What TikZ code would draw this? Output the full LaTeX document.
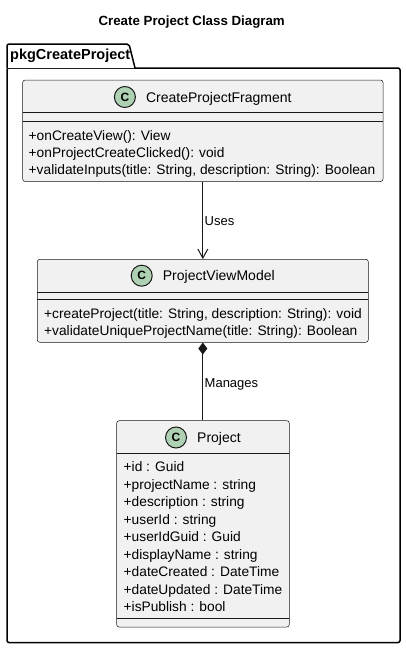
\documentclass[tikz,border=0pt]{standalone}
\usepackage{fontspec}
\setmainfont{Liberation Sans}
\usetikzlibrary{arrows.meta,calc}
\definecolor{classbg}{HTML}{F1F1F1}
\definecolor{classbd}{HTML}{181818}
\definecolor{spot}{HTML}{ADD1B2}
\tikzset{
 classbox/.style={rectangle, draw=classbd, fill=classbg, line width=0.5pt, rounded corners=2.5pt, inner sep=0pt},
 sepline/.style={draw=classbd, line width=0.5pt},
 cname/.style={inner sep=0pt, anchor=base, font=\fontsize{14}{16}\selectfont},
 member/.style={inner sep=0pt, anchor=base west, font=\fontsize{13.75}{16}\selectfont},
 spotc/.style={circle, draw=classbd, fill=spot, line width=1pt, minimum size=21pt, inner sep=0pt, font=\fontsize{12}{12}\selectfont\bfseries},
 conn/.style={line width=1pt, draw=classbd},
 lbl/.style={inner sep=0pt, anchor=base west, font=\fontsize{13}{15}\selectfont},
 pkgline/.style={line width=1.5pt, draw=black, fill=white, rounded corners=2pt}
}
\begin{document}
\begin{tikzpicture}[x=1pt,y=-1pt]
\useasboundingbox (0,0) rectangle (406,648);
\node[inner sep=0pt, anchor=base, font=\fontsize{13.3}{16}\selectfont\bfseries] (title) at (191.7,25) {Create Project Class Diagram};
% package
\draw[pkgline] (7,68) rectangle (400,642.5);
\draw[pkgline] (7,68) -- (7,44) -- (129,44) -- (135,68);
\node[inner sep=0pt, anchor=base west, font=\fontsize{14.5}{16}\selectfont\bfseries] (pkgname) at (10,59) {pkgCreateProject};
% CreateProjectFragment
\node[classbox, minimum width=360.3pt, minimum height=101.5pt] (cpf) at (202.85,130.75) {};
\draw[sepline] (22.7,112.5) -- (383,112.5);
\draw[sepline] (22.7,121) -- (383,121);
\node[cname] (cpfname) at (202.85,102) {\hspace*{32pt}CreateProjectFragment};
\node[spotc] (cpfspot) at ([shift={(11,-5)}]cpfname.base west) {C};
\node[member] (cpfm1) at (28.5,140) {+onCreateView(): View};
\node[member] (cpfm2) at (28.5,157) {+onProjectCreateClicked(): void};
\node[member] (cpfm3) at (28.5,174) {+validateInputs(title: String, description: String): Boolean};
% ProjectViewModel
\node[classbox, minimum width=331pt, minimum height=83pt] (pvm) at (202.8,300.8) {};
\draw[sepline] (37.3,292) -- (368.3,292);
\draw[sepline] (37.3,299.3) -- (368.3,299.3);
\node[cname] (pvmname) at (202.8,280.7) {\hspace*{32pt}ProjectViewModel};
\node[spotc] (pvmspot) at ([shift={(11,-5)}]pvmname.base west) {C};
\node[member] (pvmm1) at (44,318.3) {+createProject(title: String, description: String): void};
\node[member] (pvmm2) at (44,335.3) {+validateUniqueProjectName(title: String): Boolean};
% Project
\node[classbox, minimum width=172.6pt, minimum height=206.3pt] (prj) at (203,523.85) {};
\draw[sepline] (116.7,453.3) -- (289.3,453.3);
\draw[sepline] (116.7,618.3) -- (289.3,618.3);
\node[cname] (prjname) at (203,442.5) {\hspace*{32pt}Project};
\node[spotc] (prjspot) at ([shift={(11,-5)}]prjname.base west) {C};
\node[member] (a1) at (123.5,471.7) {+id : Guid};
\node[member] (a2) at (123.5,489.2) {+projectName : string};
\node[member] (a3) at (123.5,506.7) {+description : string};
\node[member] (a4) at (123.5,524.2) {+userId : string};
\node[member] (a5) at (123.5,541.7) {+userIdGuid : Guid};
\node[member] (a6) at (123.5,559.2) {+displayName : string};
\node[member] (a7) at (123.5,576.7) {+dateCreated : DateTime};
\node[member] (a8) at (123.5,594.2) {+dateUpdated : DateTime};
\node[member] (a9) at (123.5,611.7) {+isPublish : bool};
% connectors
\draw[conn, -{Straight Barb[length=9pt,width=10pt]}] (cpf.south) -- (cpf.south |- pvm.north);
\node[lbl] (uses) at (204.5,225) {Uses};
\draw[conn, {Diamond[length=12pt,width=9pt]}-] (pvm.south) -- (pvm.south |- prj.north);
\node[lbl] (manages) at (204.5,387) {Manages};
\end{tikzpicture}
\end{document}
